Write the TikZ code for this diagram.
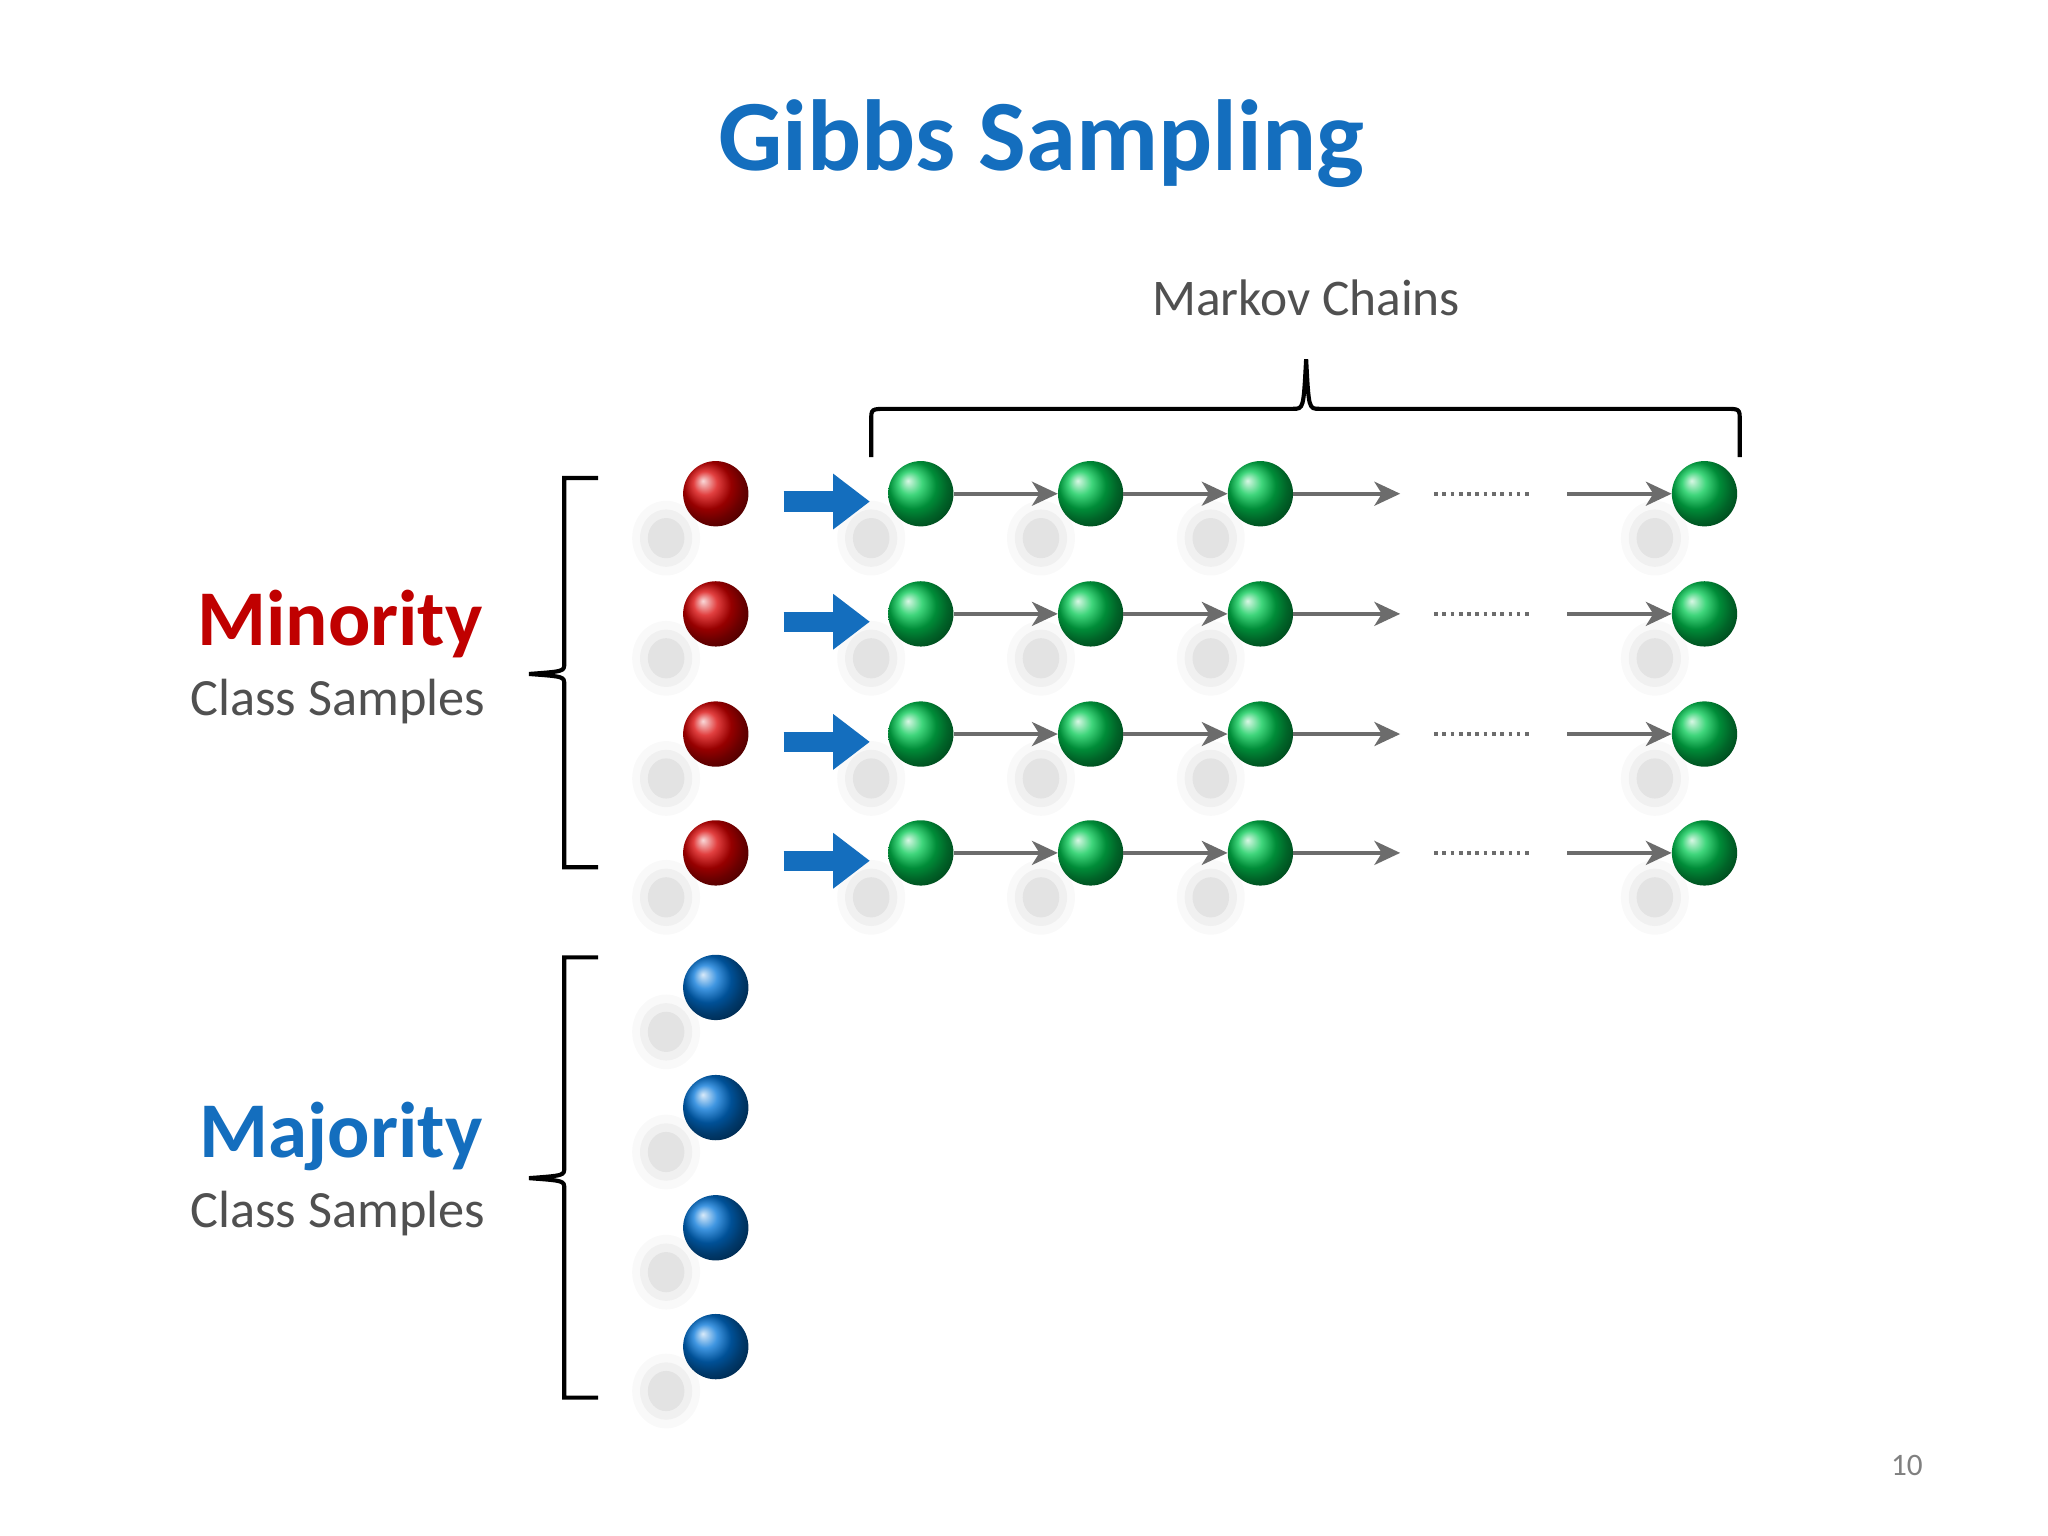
\documentclass[tikz,border=0pt]{standalone}
\usepackage{fontspec}
\setmainfont{Carlito}
\usetikzlibrary{arrows.meta,calc}
\definecolor{tblue}{RGB}{20,110,190}
\definecolor{tred}{RGB}{192,0,0}
\definecolor{tgray}{RGB}{80,80,80}
\definecolor{bred}{RGB}{215,0,0}
\definecolor{bgreen}{RGB}{0,200,80}
\definecolor{bblue}{RGB}{0,115,215}
\begin{document}
\begin{tikzpicture}[x=0.05cm,y=-0.05cm,
  ball/.style={circle,minimum size=50*0.05cm,inner sep=0pt,ball color=#1},
  chain/.style={draw=gray!85!black,line width=4.5pt,-{Stealth[length=28pt,width=26pt,inset=8pt]}},
  bigarrow/.style={draw=tblue,line width=22pt,-{Triangle[length=40pt,width=58pt]}},
  brace/.style={draw=black,line width=4.5pt},
  dots/.style={draw=gray!85!black,line width=4pt,dash pattern=on 4pt off 5pt}]
\useasboundingbox (0,0) rectangle (1568,1176);
\fill[white] (0,0) rectangle (1568,1176);
\node[font=\fontsize{110}{110}\selectfont\bfseries,text=tblue] (title) at (797,110) {Gibbs Sampling};
\node[font=\fontsize{56}{56}\selectfont,text=tgray] (mc) at (1000,228) {Markov Chains};
\node[font=\fontsize{86}{86}\selectfont\bfseries,text=tred,anchor=east] (mino) at (372,478) {Minority};
\node[font=\fontsize{57}{57}\selectfont,text=tgray,anchor=east] (minc) at (374,537) {Class Samples};
\node[font=\fontsize{86}{86}\selectfont\bfseries,text=tblue,anchor=east] (majo) at (372,870) {Majority};
\node[font=\fontsize{57}{57}\selectfont,text=tgray,anchor=east] (majc) at (374,929) {Class Samples};
\node[font=\fontsize{34}{34}\selectfont,text=gray] (pg) at (1460,1122) {10};
% braces
\draw[brace] (458,366) -- (432,366) -- (432,508) .. controls (432,514) .. (405,516) .. controls (432,518) .. (432,524) -- (432,664) -- (458,664);
\draw[brace] (458,733) -- (432,733) -- (432,894) .. controls (432,900) .. (405,902) .. controls (432,904) .. (432,910) -- (432,1070) -- (458,1070);
\draw[brace] (667,350) -- (667,322) .. controls (667,313) .. (680,313) -- (990,313) .. controls (998,313) .. (1000,275) .. controls (1002,313) .. (1010,313) -- (1320,313) .. controls (1332,313) .. (1332,322) -- (1332,350);
% rows
\foreach \i/\y in {1/378,2/470,3/562,4/653}{
  \foreach \x in {548,705,835,965,1305}{
    \foreach \r/\o in {26/0.025,20/0.035,14/0.05}{\fill[black,opacity=\o] (\x-38,\y+34) ellipse ({\r} and {\r*1.1});}}
  \node[ball=bred] (r\i) at (548,\y) {};
  \node[ball=bgreen] (g\i a) at (705,\y) {};
  \node[ball=bgreen] (g\i b) at (835,\y) {};
  \node[ball=bgreen] (g\i c) at (965,\y) {};
  \node[ball=bgreen] (g\i d) at (1305,\y) {};
  \coordinate (s\i) at (600,\y+6);
  \coordinate (t\i) at (666,\y+6);
  \coordinate (e\i) at (1072,\y);
  \coordinate (d\i a) at (1098,\y);
  \coordinate (d\i b) at (1172,\y);
  \coordinate (f\i) at (1200,\y);
  \draw[bigarrow] (s\i) -- (t\i);
  \draw[chain] (g\i a) -- (g\i b);
  \draw[chain] (g\i b) -- (g\i c);
  \draw[chain] (g\i c) -- (e\i);
  \draw[dots] (d\i a) -- (d\i b);
  \draw[chain] (f\i) -- (g\i d);
}
\foreach \i/\y in {1/756,2/848,3/940,4/1031}{
  \foreach \r/\o in {26/0.025,20/0.035,14/0.05}{\fill[black,opacity=\o] (510,\y+34) ellipse ({\r} and {\r*1.1});}
  \node[ball=bblue] (b\i) at (548,\y) {};
}
\end{tikzpicture}
\end{document}
